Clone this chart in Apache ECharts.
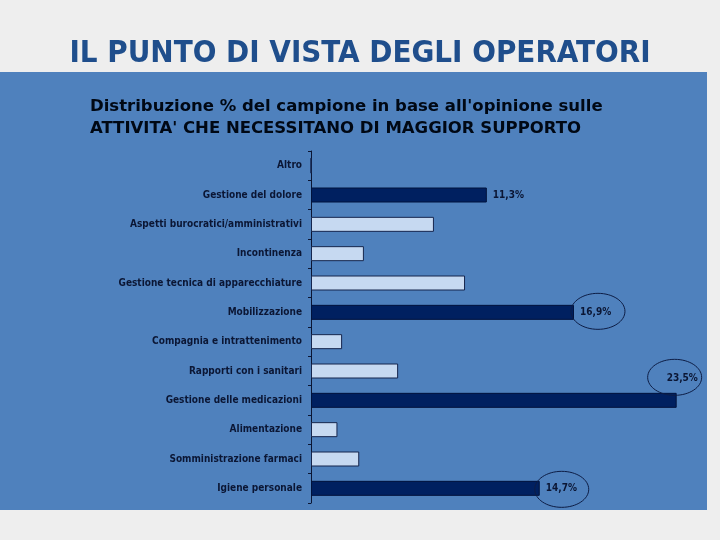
<!DOCTYPE html>
<html>
<head>
<meta charset="utf-8">
<script src="https://cdn.jsdelivr.net/npm/echarts@6/dist/echarts.min.js"></script>
<style>
  html, body { margin: 0; padding: 0; background: #eeeeee; }
  #main { width: 720px; height: 540px; }
</style>
</head>
<body>
<div id="main"></div>
<script>
// categorie, dall'alto verso il basso
var categories = [
  'Altro',
  'Gestione del dolore',
  'Aspetti burocratici/amministrativi',
  'Incontinenza',
  'Gestione tecnica di apparecchiature',
  'Mobilizzazione',
  'Compagnia e intrattenimento',
  'Rapporti con i sanitari',
  'Gestione delle medicazioni',
  'Alimentazione',
  'Somministrazione farmaci',
  'Igiene personale'
];
// percentuali
var values = [0, 11.3, 7.9, 3.4, 9.9, 16.9, 2.0, 5.6, 23.5, 1.7, 3.1, 14.7];
// barre scure con etichetta
var highlighted = ['Gestione del dolore', 'Mobilizzazione', 'Gestione delle medicazioni', 'Igiene personale'];
// etichette cerchiate
var circled = ['Mobilizzazione', 'Gestione delle medicazioni', 'Igiene personale'];

var chart = echarts.init(document.getElementById('main'));

var labelColor = '#0b1634';
var fontCond = '"DejaVu Sans Condensed", "DejaVu Sans", sans-serif';
var fontWide = '"DejaVu Sans", sans-serif';

function fmt(v) {
  return v.toFixed(1).replace('.', ',') + '%';
}

var seriesData = values.map(function (v, i) {
  var name = categories[i];
  var dark = highlighted.indexOf(name) >= 0;
  var item = {
    value: v,
    itemStyle: dark
      ? { color: '#002060', borderColor: '#00123c', borderWidth: 1 }
      : { color: '#c6d9f1', borderColor: '#15254d', borderWidth: 1 }
  };
  if (dark) {
    item.label = {
      show: true,
      position: 'right',
      distance: 6,
      formatter: function (p) { return fmt(p.value); },
      color: labelColor,
      fontFamily: fontCond,
      fontWeight: 'bold',
      fontSize: 10
    };
    // l'etichetta della barra più lunga sta sopra la fine della barra
    if (name === 'Gestione delle medicazioni') {
      item.label.offset = [-16, -22];
    }
  }
  return item;
});

var option = {
  backgroundColor: '#eeeeee',
  animation: false,
  title: [
    {
      text: 'IL PUNTO DI VISTA DEGLI OPERATORI',
      left: 'center',
      top: 33,
      textStyle: {
        color: '#1f4e8c',
        fontFamily: fontCond,
        fontWeight: 'bold',
        fontSize: 31
      }
    },
    {
      text: "Distribuzione % del campione in base all'opinione sulle\nATTIVITA' CHE NECESSITANO DI MAGGIOR SUPPORTO",
      left: 85,
      top: 91,
      textStyle: {
        color: '#000814',
        fontFamily: fontWide,
        fontWeight: 'bold',
        fontSize: 16.5,
        lineHeight: 22
      }
    }
  ],
  graphic: [
    {
      id: 'panel',
      type: 'rect',
      z: -10,
      silent: true,
      shape: { x: 0, y: 72, width: 707, height: 438 },
      style: { fill: '#4f81bd' }
    }
  ],
  grid: { left: 311, top: 151, width: 389, height: 352 },
  xAxis: {
    type: 'value',
    min: 0,
    max: 25,
    show: false,
    splitLine: { show: false }
  },
  yAxis: {
    type: 'category',
    inverse: true,
    data: categories,
    axisLine: { show: true, lineStyle: { color: '#0b1634', width: 1 } },
    axisTick: { show: true, length: 3, lineStyle: { color: '#0b1634' } },
    axisLabel: {
      color: labelColor,
      fontFamily: fontCond,
      fontWeight: 'bold',
      fontSize: 10,
      margin: 9
    }
  },
  series: [
    {
      type: 'bar',
      barWidth: 15,
      data: seriesData
    }
  ]
};

chart.setOption(option);

// ellissi attorno alle etichette principali, posizionate dalla scala
var ellipseOffsets = {
  'Mobilizzazione': [24, -1],
  'Gestione delle medicazioni': [-2, -23],
  'Igiene personale': [22, 1]
};
var ellipses = circled.map(function (name) {
  var i = categories.indexOf(name);
  var pt = chart.convertToPixel({ gridIndex: 0 }, [values[i], name]);
  var off = ellipseOffsets[name];
  return {
    id: 'ell_' + i,
    type: 'ellipse',
    z: 50,
    silent: true,
    shape: { cx: pt[0] + off[0], cy: pt[1] + off[1], rx: 27, ry: 18 },
    style: { fill: 'none', stroke: '#0d1d45', lineWidth: 1 }
  };
});
chart.setOption({ graphic: ellipses });
</script>
</body>
</html>
